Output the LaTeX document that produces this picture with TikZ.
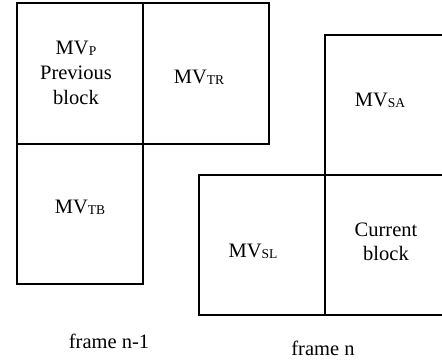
\documentclass[tikz,border=0pt]{standalone}
\usepackage{fontspec}
\setmainfont{Liberation Serif}
\newcommand\mvsub[1]{\raisebox{-1.5pt}{\fontsize{13.5}{13.5}\selectfont #1}}
\begin{document}
\begin{tikzpicture}[x=1pt,y=-1pt,
  blk/.style={draw=black, line width=1.8pt, inner sep=0pt, minimum width=126pt},
  lbl/.style={inner sep=0pt, anchor=base, font=\fontsize{20.5}{25}\selectfont}]
\useasboundingbox (0,0) rectangle (442,360);
\clip (0,0) rectangle (442,360);
% frame n-1
\node[blk, minimum height=141pt] (p)  at (80,73.5) {};
\node[blk, minimum height=141pt] (tr) at (206,73.5) {};
\node[blk, minimum height=140pt] (tb) at (80,214) {};
% frame n
\node[blk, minimum height=140pt] (sa)  at (388,105) {};
\node[blk, minimum height=140pt] (sl)  at (262,245) {};
\node[blk, minimum height=140pt] (cur) at (388,245) {};
% labels
\node[lbl] (p1) at (76,54) {MV\mvsub{P}};
\node[lbl] (p2) at (76,79) {Previous};
\node[lbl] (p3) at (76,104) {block};
\node[lbl] (trl) at (199,83) {MV\mvsub{TR}};
\node[lbl] (tbl) at (80,213) {MV\mvsub{TB}};
\node[lbl] (sal) at (380,106) {MV\mvsub{SA}};
\node[lbl] (sll) at (253,257) {MV\mvsub{SL}};
\node[lbl] (c1) at (386,236) {Current};
\node[lbl] (c2) at (386,260) {block};
\node[lbl] (f1) at (109,348) {frame n-1};
\node[lbl] (f2) at (323,355) {frame n};
\end{tikzpicture}
\end{document}
